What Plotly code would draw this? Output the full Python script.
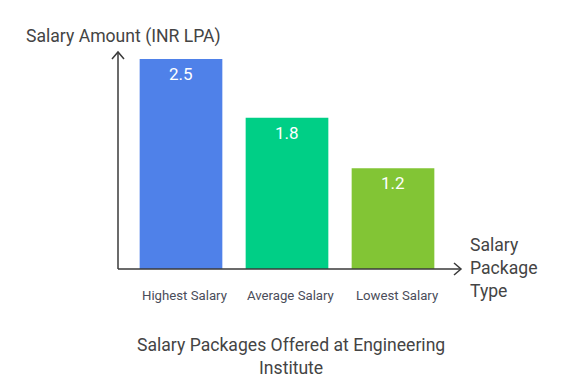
import plotly.graph_objects as go

categories = ["Highest Salary", "Average Salary", "Lowest Salary"]
values = [2.5, 1.8, 1.2]
colors = ["#4F81E9", "#00CF86", "#82C535"]

W, H = 583, 384
L, T = 110, 44
pw = 343
ph = 261 - T
R = W - L - pw
B = H - T - ph
pitch = 106.0
first_center = 173
x0 = -(first_center - L) / pitch
x1 = x0 + pw / pitch
ymax = ph / 84.0

FONT = "Roboto"
TXT = "#444444"

fig = go.Figure()
fig.add_trace(go.Bar(
    x=list(range(len(categories))), y=values,
    marker=dict(color=colors, line=dict(width=0)),
    width=0.78, hoverinfo="skip",
))

for i, v in enumerate(values):
    fig.add_annotation(x=i, y=v, xref="x", yref="y", text=str(v), showarrow=False,
                       yanchor="middle", yshift=-15,
                       font=dict(family=FONT, size=17, color="white"))

for i, c in enumerate(categories):
    fig.add_annotation(x=i, y=0, xref="x", yref="paper", text=c, showarrow=False,
                       yanchor="middle", yshift=-26, xshift=4,
                       font=dict(family=FONT, size=13.2, color="#4a4d5a"))

axcol = "#3a3a3a"
fig.add_shape(type="line", xref="paper", yref="paper", x0=0, y0=0, x1=1, y1=0,
              line=dict(color=axcol, width=1.5))
fig.add_shape(type="line", xref="paper", yref="paper", x0=0, y0=0, x1=0, y1=1,
              line=dict(color=axcol, width=1.5))
fig.add_shape(type="path", xref="paper", yref="paper", xsizemode="pixel", ysizemode="pixel",
              xanchor=1, yanchor=0, path="M -7 6 L 0 0 L -7 -6",
              line=dict(color=axcol, width=1.5))
fig.add_shape(type="path", xref="paper", yref="paper", xsizemode="pixel", ysizemode="pixel",
              xanchor=0, yanchor=1, path="M -6 -7 L 0 0 L 6 -7",
              line=dict(color=axcol, width=1.5))

fig.add_annotation(xref="paper", yref="paper", x=0, y=1, text="Salary Amount (INR LPA)",
                   showarrow=False, xanchor="center", yanchor="bottom", yshift=3, xshift=5,
                   font=dict(family=FONT, size=17.6, color=TXT))
fig.add_annotation(xref="paper", yref="paper", x=1, y=0, text="Salary<br>Package<br>Type",
                   showarrow=False, xanchor="left", yanchor="middle", xshift=7, yshift=1,
                   align="left", font=dict(family=FONT, size=17.6, color=TXT))
fig.add_annotation(xref="paper", yref="paper", x=(283 - L) / pw, y=0,
                   text="Salary Packages Offered at Engineering<br>Institute",
                   showarrow=False, xanchor="center", yanchor="top", yshift=-64,
                   align="center", font=dict(family=FONT, size=17.6, color=TXT))

fig.update_layout(
    width=W, height=H, margin=dict(l=L, r=R, t=T, b=B),
    paper_bgcolor="white", plot_bgcolor="white", showlegend=False,
    xaxis=dict(range=[x0, x1], showgrid=False, zeroline=False, showline=False,
               showticklabels=False, ticks="", fixedrange=True),
    yaxis=dict(range=[0, ymax], showgrid=False, zeroline=False, showline=False,
               showticklabels=False, ticks="", fixedrange=True),
)
fig.write_html("out.html")
